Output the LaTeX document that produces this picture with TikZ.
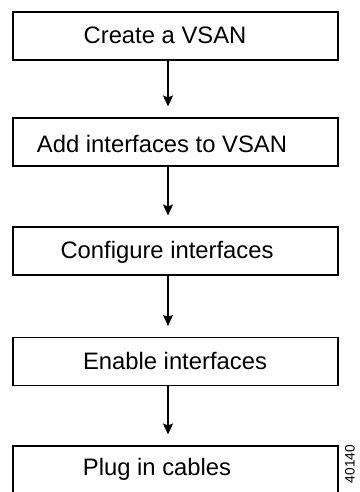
\documentclass[tikz,border=0pt]{standalone}
\usepackage{fontspec}
\setmainfont{Liberation Sans}
\usetikzlibrary{arrows.meta}
\begin{document}
\begin{tikzpicture}[x=1pt,y=-1pt,
  stepbox/.style={draw=black,line width=1.1pt,minimum width=325pt,minimum height=48pt,inner sep=0pt},
  steptext/.style={font=\fontsize{23.8}{26}\selectfont,anchor=base,inner sep=0pt},
  arr/.style={line width=1.1pt,-{Stealth[length=11pt,width=10pt,inset=2pt]},shorten >=11pt}]
\useasboundingbox (0,0) rectangle (359,492);
\clip (0,0) rectangle (359,492);
\node[stepbox] (b1) at (175.5,36) {};
\node[stepbox] (b2) at (175.5,142) {};
\node[stepbox] (b3) at (175.5,251) {};
\node[stepbox] (b4) at (175.5,361.5) {};
\node[stepbox] (b5) at (175.5,470) {};
\node[steptext] (t1) at (165,44) {Create a VSAN};
\node[steptext] (t2) at (162,152) {Add interfaces to VSAN};
\node[steptext] (t3) at (167,258) {Configure interfaces};
\node[steptext] (t4) at (175,369) {Enable interfaces};
\node[steptext] (t5) at (157,475) {Plug in cables};
\draw[arr] ([xshift=-7.5pt]b1.south) -- ([xshift=-7.5pt]b2.north);
\draw[arr] ([xshift=-7.5pt]b2.south) -- ([xshift=-7.5pt]b3.north);
\draw[arr] ([xshift=-7.5pt]b3.south) -- ([xshift=-7.5pt]b4.north);
\draw[arr] ([xshift=-7.5pt]b4.south) -- ([xshift=-7.5pt]b5.north);
\node[font=\fontsize{13.7}{15}\selectfont,rotate=90,inner sep=0pt] (id) at (350,464) {40140};
\end{tikzpicture}
\end{document}
